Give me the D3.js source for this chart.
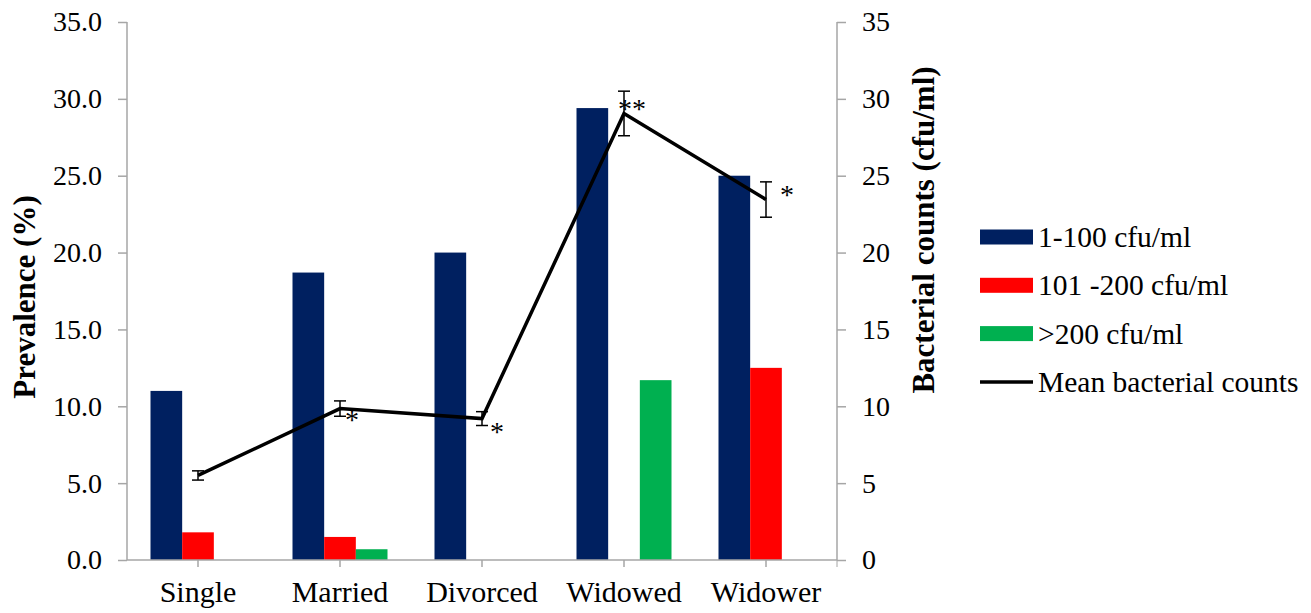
<!DOCTYPE html>
<html>
<head>
<meta charset="utf-8">
<script src="https://cdn.jsdelivr.net/npm/d3@7"></script>
<style>
  body { margin: 0; background: #fff; }
</style>
</head>
<body>
<svg id="chart" width="1311" height="613"></svg>
<script>
// data
let categories = ["Single", "Married", "Divorced", "Widowed", "Widower"]
let seriesNames = ["1-100 cfu/ml", "101 -200 cfu/ml", ">200 cfu/ml"]
let low = [11.0, 18.7, 20.0, 29.4, 25.0]
let mid = [1.8, 1.5, 0, 0, 12.5]
let high = [0, 0.7, 0, 11.7, 0]
let meanCounts = [5.5, 9.85, 9.2, 29.05, 23.45]
let meanErr = [0.3, 0.5, 0.45, 1.45, 1.15]
let stars = ["", "*", "*", "**", "*"]
let leftTicks = [0, 5, 10, 15, 20, 25, 30, 35]
let rightTicks = [0, 5, 10, 15, 20, 25, 30, 35]

let colors = ["#002060", "#ff0000", "#00b050"]
let starOffset = [[0, 0], [12, 20], [15, 22], [8, 5], [21, 4]]

let svg = d3.select("#chart")
let pLeft = 127, pRight = 837, pTop = 22, pBottom = 560
let serif = '"Liberation Serif", "Times New Roman", serif'

let x = d3.scaleBand().domain(categories).range([pLeft, pRight])
let xs = d3.scaleBand().domain(seriesNames).range([0, 95])
let y = d3.scaleLinear().domain([0, 35]).range([pBottom, pTop])
let y2 = d3.scaleLinear().domain([0, 35]).range([pBottom, pTop])

let cx = c => x(c) + x.bandwidth() / 2

// bars
let rows = categories.map((c, i) => ({cat: c, vals: [low[i], mid[i], high[i]]}))
let groups = svg.append("g").selectAll("g")
    .data(rows)
    .enter()
    .append("g")
    .attr("transform", d => `translate(${cx(d.cat) - 47.5},0)`)

groups.selectAll("rect")
    .data(d => d.vals.map((v, k) => ({k: k, v: v})))
    .enter()
    .append("rect")
    .attr("x", d => xs(seriesNames[d.k]))
    .attr("width", xs.bandwidth())
    .attr("y", d => y(d.v))
    .attr("height", d => pBottom - y(d.v))
    .attr("fill", d => colors[d.k])

// axes
let axisColor = "#a6a6a6"
let gl = svg.append("g")
    .attr("transform", `translate(${pLeft},0)`)
    .call(d3.axisLeft(y).tickValues(leftTicks).tickFormat(d3.format(".1f")).tickSize(9).tickPadding(16))
let gr = svg.append("g")
    .attr("transform", `translate(${pRight},0)`)
    .call(d3.axisRight(y2).tickValues(rightTicks).tickFormat(d3.format("d")).tickSize(9).tickPadding(16))
let gx = svg.append("g")
    .attr("transform", `translate(0,${pBottom})`)
    .call(d3.axisBottom(x).tickSize(7).tickPadding(14))

gx.append("line").attr("x1", pRight).attr("x2", pRight).attr("y1", 0).attr("y2", 7).attr("stroke", axisColor)

;[gl, gr, gx].forEach(g => {
    g.select(".domain").attr("stroke", axisColor).attr("stroke-width", 1.5)
    g.selectAll(".tick line").attr("stroke", axisColor).attr("stroke-width", 1.5)
    g.selectAll("text").style("font-family", serif).style("font-size", "28px").attr("fill", "#000")
})
gx.select(".domain").attr("d", `M${pLeft},0H${pRight}`)
gl.select(".domain").attr("d", `M0,${pTop}V${pBottom}`)
gr.select(".domain").attr("d", `M0,${pTop}V${pBottom}`)
gx.selectAll("text").style("font-size", "30px")

// axis titles
svg.append("text")
    .attr("transform", "translate(35,297) rotate(-90)")
    .attr("text-anchor", "middle")
    .style("font-family", serif).style("font-size", "31px").style("font-weight", "bold")
    .text("Prevalence (%)")
svg.append("text")
    .attr("transform", "translate(934,230) rotate(-90)")
    .attr("text-anchor", "middle")
    .style("font-family", serif).style("font-size", "31px").style("font-weight", "bold")
    .text("Bacterial counts (cfu/ml)")

// mean line with error bars
let pts = categories.map((c, i) => ({cat: c, v: meanCounts[i], e: meanErr[i], s: stars[i], o: starOffset[i]}))
let line = d3.line().x(d => cx(d.cat)).y(d => y2(d.v))

let eb = svg.append("g").selectAll("g")
    .data(pts)
    .enter()
    .append("g")
    .attr("stroke", "#000").attr("stroke-width", 1.5)
eb.append("line").attr("x1", d => cx(d.cat)).attr("x2", d => cx(d.cat))
    .attr("y1", d => y2(d.v - d.e)).attr("y2", d => y2(d.v + d.e))
eb.append("line").attr("x1", d => cx(d.cat) - 6).attr("x2", d => cx(d.cat) + 6)
    .attr("y1", d => y2(d.v - d.e)).attr("y2", d => y2(d.v - d.e))
eb.append("line").attr("x1", d => cx(d.cat) - 6).attr("x2", d => cx(d.cat) + 6)
    .attr("y1", d => y2(d.v + d.e)).attr("y2", d => y2(d.v + d.e))

svg.append("path")
    .datum(pts)
    .attr("d", line)
    .attr("fill", "none")
    .attr("stroke", "#000")
    .attr("stroke-width", 3.5)

svg.append("g").selectAll("text")
    .data(pts)
    .enter()
    .append("text")
    .attr("x", d => cx(d.cat) + d.o[0])
    .attr("y", d => y2(d.v) + d.o[1])
    .attr("text-anchor", "middle")
    .style("font-family", serif).style("font-size", "28px")
    .text(d => d.s)

// legend
let legendItems = seriesNames.concat(["Mean bacterial counts"])
let lg = svg.append("g").attr("transform", "translate(980,237)")
let li = lg.selectAll("g")
    .data(legendItems)
    .enter()
    .append("g")
    .attr("transform", (d, i) => `translate(0,${i * 48.3})`)
li.filter((d, i) => i < 3).append("rect")
    .attr("x", 0).attr("y", -7.5).attr("width", 53).attr("height", 15)
    .attr("fill", (d, i) => colors[i])
li.filter((d, i) => i == 3).append("line")
    .attr("x1", 0).attr("x2", 53).attr("y1", 0).attr("y2", 0)
    .attr("stroke", "#000").attr("stroke-width", 3.5)
li.append("text")
    .attr("x", 58).attr("y", 10)
    .style("font-family", serif).style("font-size", "29.5px")
    .text(d => d)
</script>
</body>
</html>
